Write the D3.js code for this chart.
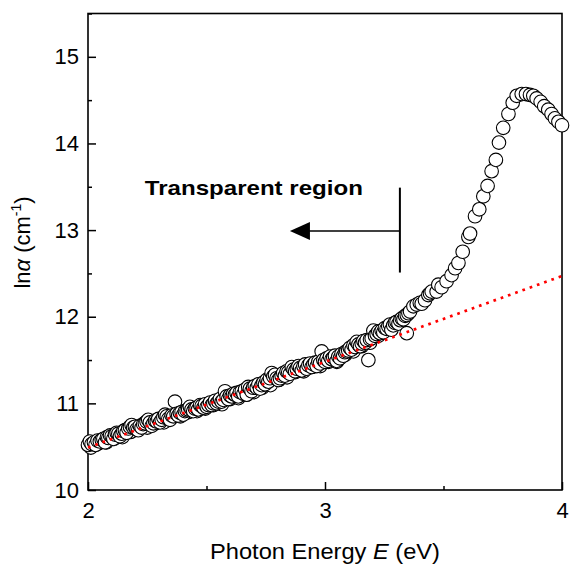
<!DOCTYPE html>
<html>
<head>
<meta charset="utf-8">
<script src="https://cdn.jsdelivr.net/npm/d3@7/dist/d3.min.js"></script>
<style>
  html, body { margin: 0; padding: 0; background: #fff; }
  svg { display: block; font-family: "Liberation Sans", Arial, sans-serif; }
</style>
</head>
<body>
<svg id="chart" width="572" height="564"></svg>
<script>
// Measured absorption: photon energy (eV) and ln(alpha)
const energy = [
  // first scan, lower edge of the tail
  2.012, 2.045, 2.078, 2.110, 2.145, 2.180, 2.215, 2.250, 2.285, 2.320,
  2.355, 2.390, 2.425, 2.460, 2.495, 2.530, 2.565, 2.600, 2.635, 2.668,
  2.700, 2.735, 2.770, 2.805, 2.840, 2.875, 2.910, 2.945, 2.980, 3.015,
  3.050, 3.085, 3.120, 3.155, 3.190, 3.225,
  // main scan
  2.000, 2.008, 2.015, 2.025, 2.032, 2.040, 2.050, 2.058, 2.065, 2.072,
  2.080, 2.086, 2.093, 2.100, 2.107, 2.114, 2.121, 2.128, 2.135, 2.142,
  2.149, 2.156, 2.163, 2.170, 2.177, 2.184, 2.191, 2.198, 2.205, 2.212,
  2.219, 2.226, 2.233, 2.240, 2.247, 2.254, 2.261, 2.269, 2.276, 2.283,
  2.290, 2.297, 2.304, 2.311, 2.318, 2.325, 2.332, 2.339, 2.346, 2.353,
  2.360, 2.367, 2.374, 2.381, 2.388, 2.395, 2.402, 2.409, 2.416, 2.423,
  2.430, 2.437, 2.444, 2.451, 2.458, 2.465, 2.473, 2.480, 2.487, 2.494,
  2.501, 2.508, 2.515, 2.522, 2.529, 2.536, 2.543, 2.550, 2.557, 2.564,
  2.571, 2.578, 2.585, 2.592, 2.599, 2.606, 2.613, 2.620, 2.627, 2.634,
  2.641, 2.649, 2.656, 2.663, 2.670, 2.676, 2.683, 2.690, 2.697, 2.704,
  2.712, 2.719, 2.726, 2.733, 2.740, 2.747, 2.754, 2.761, 2.768, 2.775,
  2.782, 2.789, 2.796, 2.803, 2.810, 2.817, 2.824, 2.831, 2.838, 2.845,
  2.852, 2.860, 2.867, 2.874, 2.881, 2.888, 2.895, 2.902, 2.909, 2.916,
  2.923, 2.930, 2.937, 2.944, 2.951, 2.958, 2.965, 2.972, 2.979, 2.986,
  2.993, 3.000, 3.007, 3.014, 3.021, 3.028, 3.035, 3.042, 3.049, 3.056,
  3.063, 3.070, 3.077, 3.084, 3.090, 3.098, 3.105, 3.112, 3.120, 3.127,
  3.134, 3.141, 3.148, 3.155, 3.162, 3.169, 3.176, 3.183, 3.190, 3.197,
  3.204, 3.211, 3.218, 3.225, 3.232, 3.239, 3.246, 3.253, 3.260, 3.267,
  3.274, 3.280, 3.288, 3.295, 3.302, 3.310, 3.317, 3.324, 3.331, 3.338,
  3.345, 3.345, 3.352, 3.359, 3.373, 3.387, 3.400, 3.408, 3.422, 3.436,
  3.443, 3.450, 3.471, 3.478, 3.492, 3.513, 3.534, 3.549, 3.563, 3.581,
  3.605, 3.612, 3.633, 3.651, 3.668, 3.686, 3.703, 3.721, 3.734, 3.752,
  3.774, 3.792, 3.809, 3.830, 3.848, 3.865, 3.879, 3.893, 3.910, 3.925,
  3.942, 3.956, 3.970, 3.985, 4.000
];
const lnAlpha = [
  10.49, 10.54, 10.55, 10.59, 10.61, 10.67, 10.71, 10.72, 10.77, 10.78,
  10.84, 10.85, 10.90, 10.91, 10.94, 10.98, 10.99, 11.05, 11.06, 11.10,
  11.13, 11.18, 11.21, 11.27, 11.30, 11.36, 11.37, 11.42, 11.43, 11.48,
  11.48, 11.56, 11.60, 11.66, 11.70, 11.78,
  10.52, 10.56, 10.53, 10.55, 10.52, 10.57, 10.56, 10.58, 10.59, 10.55,
  10.61, 10.60, 10.63, 10.62, 10.59, 10.64, 10.66, 10.65, 10.62, 10.65,
  10.68, 10.69, 10.66, 10.71, 10.73, 10.75, 10.72, 10.73, 10.70, 10.69,
  10.74, 10.72, 10.76, 10.77, 10.79, 10.81, 10.78, 10.74, 10.77, 10.80,
  10.79, 10.82, 10.78, 10.81, 10.84, 10.87, 10.85, 10.82, 10.81, 10.86,
  10.85, 11.02, 10.88, 10.86, 10.89, 10.90, 10.87, 10.91, 10.92, 10.93,
  10.96, 10.93, 10.91, 10.94, 10.95, 10.93, 10.98, 10.97, 10.95, 10.99,
  10.96, 10.98, 11.01, 10.98, 11.00, 11.03, 11.00, 11.02, 11.05, 11.02,
  11.04, 11.14, 11.08, 11.05, 11.09, 11.08, 11.11, 11.10, 11.12, 11.08,
  11.13, 11.14, 11.11, 11.16, 11.10, 11.19, 11.17, 11.14, 11.18, 11.20,
  11.18, 11.22, 11.17, 11.21, 11.24, 11.22, 11.27, 11.25, 11.29, 11.35,
  11.31, 11.33, 11.29, 11.27, 11.29, 11.32, 11.35, 11.32, 11.37, 11.36,
  11.34, 11.42, 11.39, 11.37, 11.40, 11.43, 11.41, 11.38, 11.43, 11.45,
  11.40, 11.44, 11.46, 11.42, 11.45, 11.47, 11.43, 11.48, 11.46, 11.60,
  11.50, 11.48, 11.52, 11.49, 11.54, 11.51, 11.53, 11.55, 11.49, 11.54,
  11.52, 11.57, 11.55, 11.59, 11.60, 11.61, 11.64, 11.62, 11.67, 11.65,
  11.71, 11.68, 11.66, 11.69, 11.72, 11.70, 11.73, 11.50, 11.74, 11.75,
  11.84, 11.78, 11.80, 11.83, 11.81, 11.84, 11.82, 11.87, 11.86, 11.89,
  11.91, 11.85, 11.90, 11.93, 11.94, 11.92, 11.96, 11.98, 11.97, 12.01,
  12.02, 11.81, 12.04, 12.06, 12.12, 12.14, 12.16, 12.15, 12.19, 12.25,
  12.27, 12.29, 12.29, 12.37, 12.34, 12.41, 12.48, 12.56, 12.62, 12.75,
  12.92, 12.96, 13.16, 13.24, 13.39, 13.51, 13.68, 13.81, 14.01, 14.18,
  14.34, 14.47, 14.55, 14.57, 14.57, 14.56, 14.55, 14.52, 14.48, 14.43,
  14.39, 14.34, 14.29, 14.25, 14.21
];

// Urbach-tail linear fit (end points)
const fitEnergy = [2.0, 4.0];
const fitLnAlpha = [10.49, 12.47];

// Axis ticks
const xTicks = [2, 3, 4];
const xMinorTicks = [2.5, 3.5];
const yTicks = [10, 11, 12, 13, 14, 15];
const yMinorTicks = [10.5, 11.5, 12.5, 13.5, 14.5, 15.5];

// Annotation: transparent-region marker
const markerEnergy = 3.316;
const markerLnRange = [12.51, 13.49];
const arrowTipEnergy = 2.852;
const arrowLn = 12.99;
const annotationText = "Transparent region";
const annotationPos = [2.24, 13.41];

const svg = d3.select("#chart");
const plot = { left: 88, right: 562, top: 13.5, bottom: 490 };

const x = d3.scaleLinear().domain([2, 4]).range([plot.left, plot.right]);
const y = d3.scaleLinear().domain([10, 15.5]).range([plot.bottom, plot.top]);

const fontSize = 22;

// Y axis (ticks inward)
const yAxis = svg.append("g").attr("transform", `translate(${plot.left},0)`)
  .call(d3.axisLeft(y).tickValues(yTicks).tickFormat(d3.format("d"))
    .tickSizeInner(-8).tickSizeOuter(0).tickPadding(9));
yAxis.select(".domain").remove();
yAxis.selectAll(".tick line").attr("stroke", "#000").attr("stroke-width", 1.5);
yAxis.selectAll(".tick text").attr("font-size", fontSize).attr("fill", "#000")
  .attr("font-family", "Liberation Sans, Arial, sans-serif");

const yMinor = svg.append("g").attr("transform", `translate(${plot.left},0)`)
  .call(d3.axisLeft(y).tickValues(yMinorTicks).tickFormat("").tickSizeInner(-4).tickSizeOuter(0));
yMinor.select(".domain").remove();
yMinor.selectAll(".tick line").attr("stroke", "#000").attr("stroke-width", 1.5);

// X axis (ticks inward)
const xAxis = svg.append("g").attr("transform", `translate(0,${plot.bottom})`)
  .call(d3.axisBottom(x).tickValues(xTicks).tickFormat(d3.format("d"))
    .tickSizeInner(-8).tickSizeOuter(0).tickPadding(12));
xAxis.select(".domain").remove();
xAxis.selectAll(".tick line").attr("stroke", "#000").attr("stroke-width", 1.5);
xAxis.selectAll(".tick text").attr("font-size", fontSize).attr("fill", "#000")
  .attr("font-family", "Liberation Sans, Arial, sans-serif");

const xMinor = svg.append("g").attr("transform", `translate(0,${plot.bottom})`)
  .call(d3.axisBottom(x).tickValues(xMinorTicks).tickFormat("").tickSizeInner(-4).tickSizeOuter(0));
xMinor.select(".domain").remove();
xMinor.selectAll(".tick line").attr("stroke", "#000").attr("stroke-width", 1.5);

// Frame
svg.append("rect")
  .attr("x", plot.left).attr("y", plot.top)
  .attr("width", plot.right - plot.left).attr("height", plot.bottom - plot.top)
  .attr("fill", "none").attr("stroke", "#000").attr("stroke-width", 1.6);

// Data points: open circles
const pts = energy.map((e, i) => ({ e, v: lnAlpha[i] }));
svg.append("g").selectAll("circle").data(pts).join("circle")
  .attr("cx", d => x(d.e)).attr("cy", d => y(d.v))
  .attr("r", 6.8)
  .attr("fill", "#fff").attr("stroke", "#000").attr("stroke-width", 1.1);

// Linear fit: red dotted line
const fitLine = d3.line().x(d => x(d[0])).y(d => y(d[1]));
svg.append("path")
  .datum(fitEnergy.map((e, i) => [e, fitLnAlpha[i]]))
  .attr("d", fitLine)
  .attr("fill", "none").attr("stroke", "#ff0000")
  .attr("stroke-width", 2.7).attr("stroke-dasharray", "2.7,5");

// Transparent region annotation
svg.append("line")
  .attr("x1", x(markerEnergy)).attr("x2", x(markerEnergy))
  .attr("y1", y(markerLnRange[0])).attr("y2", y(markerLnRange[1]))
  .attr("stroke", "#000").attr("stroke-width", 2);

const tipX = x(arrowTipEnergy), tipY = y(arrowLn);
svg.append("line")
  .attr("x1", x(markerEnergy)).attr("x2", tipX + 18)
  .attr("y1", tipY).attr("y2", tipY)
  .attr("stroke", "#000").attr("stroke-width", 1.5);
svg.append("path")
  .attr("d", `M${tipX},${tipY} L${tipX + 20},${tipY - 9} L${tipX + 20},${tipY + 9} Z`)
  .attr("fill", "#000");

svg.append("text")
  .attr("x", x(annotationPos[0])).attr("y", y(annotationPos[1]))
  .attr("font-size", 21).attr("font-weight", "bold").attr("fill", "#000")
  .attr("textLength", 218).attr("lengthAdjust", "spacingAndGlyphs")
  .text(annotationText);

// Axis titles
const xTitle = svg.append("text")
  .attr("x", (plot.left + plot.right) / 2).attr("y", 559)
  .attr("text-anchor", "middle").attr("font-size", fontSize).attr("fill", "#000")
  .attr("textLength", 230).attr("lengthAdjust", "spacingAndGlyphs");
xTitle.append("tspan").text("Photon Energy ");
xTitle.append("tspan").attr("font-style", "italic").text("E");
xTitle.append("tspan").text(" (eV)");

const yTitle = svg.append("text")
  .attr("transform", `translate(30,242.5) rotate(-90)`)
  .attr("text-anchor", "middle").attr("font-size", fontSize).attr("fill", "#000");
yTitle.append("tspan").text("ln");
yTitle.append("tspan").attr("font-style", "italic").text("α");
yTitle.append("tspan").text(" (cm");
yTitle.append("tspan").attr("font-size", 14).attr("dy", -9).text("-1");
yTitle.append("tspan").attr("dy", 9).text(")");
</script>
</body>
</html>
